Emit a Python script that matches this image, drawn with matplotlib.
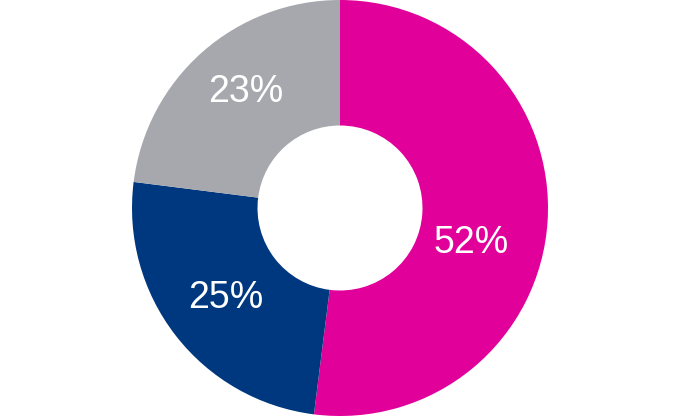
import matplotlib
matplotlib.use("Agg")
import matplotlib.pyplot as plt
import numpy as np

labels = ["52%", "25%", "23%"]
values = [52, 25, 23]
colors = ["#E2009A", "#00387F", "#A7A8AD"]
label_angles = [-15, -142, 129]
label_radii = [0.655, 0.70, 0.72]

fig = plt.figure(figsize=(6.8, 4.16), dpi=100)
ax = fig.add_axes([0, 0, 1, 1])
R = 208.0
ax.pie(values, colors=colors, startangle=90, counterclock=False,
       radius=1.0, wedgeprops=dict(width=1 - 82.5 / R, linewidth=0),
       center=(0, 0))
for lab, a, r in zip(labels, label_angles, label_radii):
    t = np.deg2rad(a)
    ax.text(r * np.cos(t), r * np.sin(t), lab, color="white",
            fontsize=27, ha="center", va="center", family="Liberation Sans")
ax.set_xlim(-340 / R, 340 / R)
ax.set_ylim(-1, 1)
ax.set_aspect("auto")
ax.axis("off")
fig.savefig("out.png", dpi=100)
